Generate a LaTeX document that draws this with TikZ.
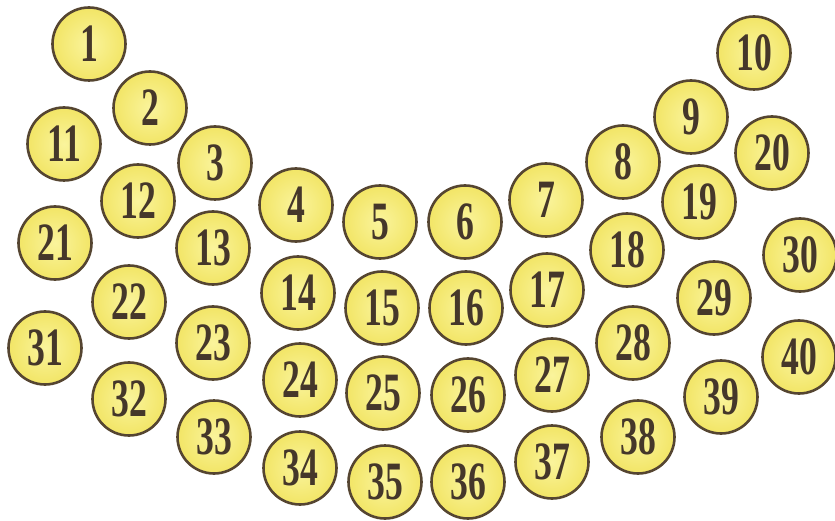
\documentclass[tikz,border=0pt]{standalone}
\usepackage{fontspec}
\setmainfont{Liberation Serif}[FakeStretch=0.66]
\begin{document}
\begin{tikzpicture}[x=1pt,y=-1pt,
  ball/.style={circle, minimum size=73pt, inner sep=0pt, line width=2.6pt,
    draw=balledge, inner color=ballin, outer color=ballout,
    text=balltext, font=\fontsize{54}{54}\selectfont\bfseries}]
\definecolor{balledge}{HTML}{554531}
\definecolor{ballin}{HTML}{FAF49C}
\definecolor{ballout}{HTML}{F2E566}
\definecolor{balltext}{HTML}{45372A}
\useasboundingbox (0,0) rectangle (835,521);
\foreach \n/\x/\y in {
  1/89/44, 2/150/108, 3/215/163, 4/296/205, 5/380/222, 6/465/222, 7/546/200, 8/623/162, 9/691/117, 10/754/53,
  11/64/144, 12/138/201, 13/213/248, 14/298/293, 15/382/308, 16/466/308, 17/547/290, 18/627/250, 19/699/202, 20/772/153,
  21/55/243, 22/129/302, 23/213/343, 24/300/380, 25/383/393, 26/468/395, 27/552/375, 28/633/343, 29/714/298, 30/800/255,
  31/45/348, 32/129/399, 33/214/437, 34/300/468, 35/385/482, 36/468/482, 37/552/462, 38/638/437, 39/721/397, 40/799/357}
  \node[ball] (b\n) at (\x,\y) {\n};
\end{tikzpicture}
\end{document}
